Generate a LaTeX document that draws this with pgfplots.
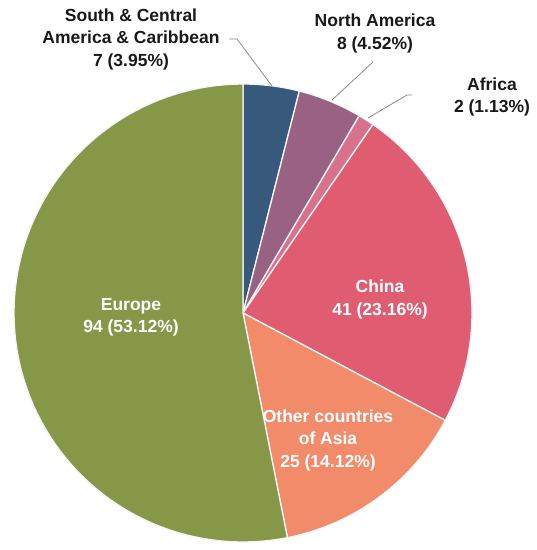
\documentclass[border=0pt]{standalone}
\usepackage{pgfplots}
\pgfplotsset{compat=1.18}
\usepackage{fontspec}
\setmainfont{Liberation Sans}

\definecolor{cSCA}{HTML}{37597B}
\definecolor{cNA}{HTML}{9A6282}
\definecolor{cAF}{HTML}{D8728C}
\definecolor{cCN}{HTML}{DF5C71}
\definecolor{cOA}{HTML}{F28B69}
\definecolor{cEU}{HTML}{869848}
\definecolor{lead}{HTML}{8C8C8C}

\tikzset{lbl/.style={font=\bfseries\fontsize{17.5}{22.5}\selectfont, align=center, inner sep=0pt}}

% pie centre and radius in picture units, total count
\def\cx{243}
\def\cy{237}
\def\rr{229}
\def\total{177}

% sector from cumulative count #2 to #3, clockwise from the top
\newcommand{\sector}[3]{%
  \addplot[fill=#1, draw=white!92!gray, line width=1.3pt, line join=round,
    domain={90-360*#3/\total}:{90-360*#2/\total}, samples=90, variable=\t]
    ({\cx+\rr*cos(\t)},{\cy+\rr*sin(\t)}) -- (axis cs:\cx,\cy) -- cycle;}

\begin{document}
\begin{tikzpicture}
\begin{axis}[
  width=537pt, height=550pt, scale only axis,
  xmin=0, xmax=537, ymin=0, ymax=550,
  axis line style={draw=none}, xtick=\empty, ytick=\empty,
  clip=false]
% counts: S&C America 7, North America 8, Africa 2, China 41, Other Asia 25, Europe 94
\sector{cSCA}{0}{7}
\sector{cNA}{7}{15}
\sector{cAF}{15}{17}
\sector{cCN}{17}{58}
\sector{cOA}{58}{83}
\sector{cEU}{83}{177}

% leader lines
\addplot[lead, line width=0.8pt] coordinates {(229,511) (237,511) (272,464)};
\addplot[lead, line width=0.8pt] coordinates {(373,488) (332,450)};
\addplot[lead, line width=0.8pt] coordinates {(412,455) (407,455) (368,432)};

\node[lbl, text=black!90] at (axis cs:131,511) {South \& Central\\America \& Caribbean\\7 (3.95\%)};
\node[lbl, text=black!90] at (axis cs:375,516.5) {North America\\8 (4.52\%)};
\node[lbl, text=black!90] at (axis cs:492,453) {Africa\\2 (1.13\%)};
\node[lbl, text=white] at (axis cs:380,250.5) {China\\41 (23.16\%)};
\node[lbl, text=white] at (axis cs:328,110) {Other countries\\of Asia\\25 (14.12\%)};
\node[lbl, text=white] at (axis cs:131,232.5) {Europe\\94 (53.12\%)};
\end{axis}
\end{tikzpicture}
\end{document}
